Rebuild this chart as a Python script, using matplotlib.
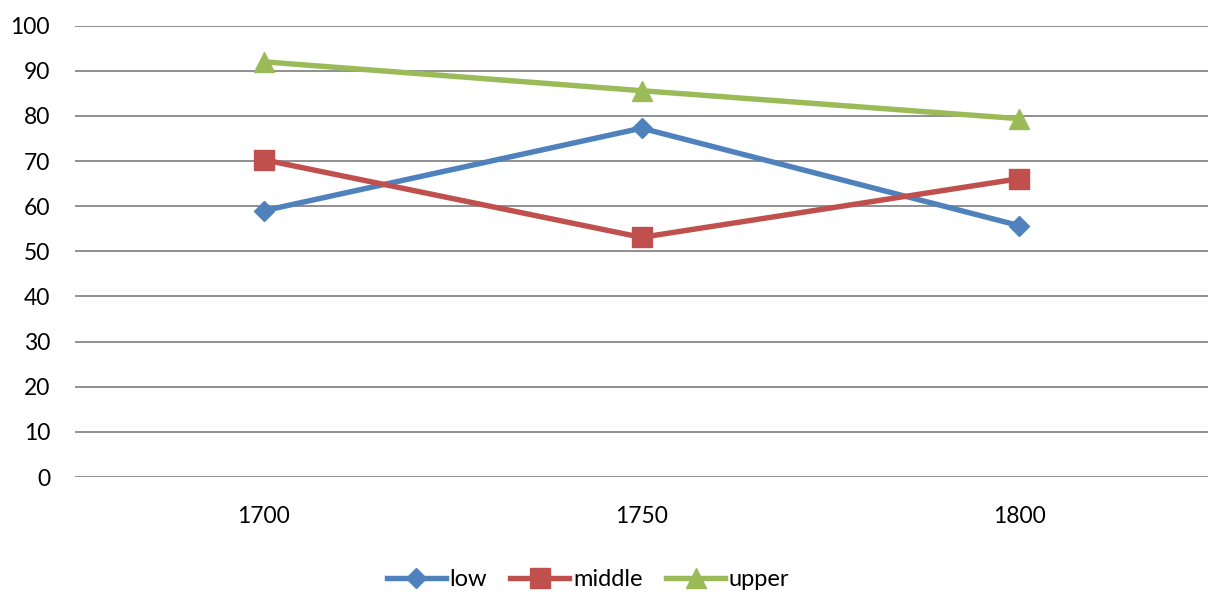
import matplotlib.pyplot as plt

years = ['1700', '1750', '1800']
low = [59.0, 77.3, 55.7]
middle = [70.3, 53.1, 66.1]
upper = [92.0, 85.6, 79.4]

plt.rcParams['font.family'] = ['Lato', 'DejaVu Sans']

fig = plt.figure(figsize=(12.08, 5.92), dpi=100)
ax = fig.add_axes([75 / 1208, 1 - 477 / 592, 1 - 75 / 1208, (477 - 25.7) / 592])

x = [i + 0.5 for i in range(len(years))]
ax.plot(x, low, color='#4F81BD', lw=3.9, marker='D', ms=10.5, label='low')
ax.plot(x, middle, color='#C0504D', lw=3.9, marker='s', ms=14.5, label='middle')
ax.plot(x, upper, color='#9BBB59', lw=3.9, marker='^', ms=15, label='upper')

ax.set_xlim(0, 3)
ax.set_ylim(0, 100)
ax.set_yticks(range(0, 101, 10))
ax.set_xticks(x)
ax.set_xticklabels(years)
ax.tick_params(length=0, labelsize=16.5, colors='black')
ax.tick_params(axis='y', pad=18)
ax.tick_params(axis='x', pad=21)
ax.grid(axis='y', color='#878787', lw=1.3)
ax.set_axisbelow(True)
for s in ax.spines.values():
    s.set_visible(False)

fig.legend(loc='center', bbox_to_anchor=(588 / 1208, 1 - 580 / 592), ncol=3, frameon=False,
           fontsize=17, handlelength=2.5, handletextpad=0.15, columnspacing=1.0)

fig.savefig('out.png', dpi=100)
